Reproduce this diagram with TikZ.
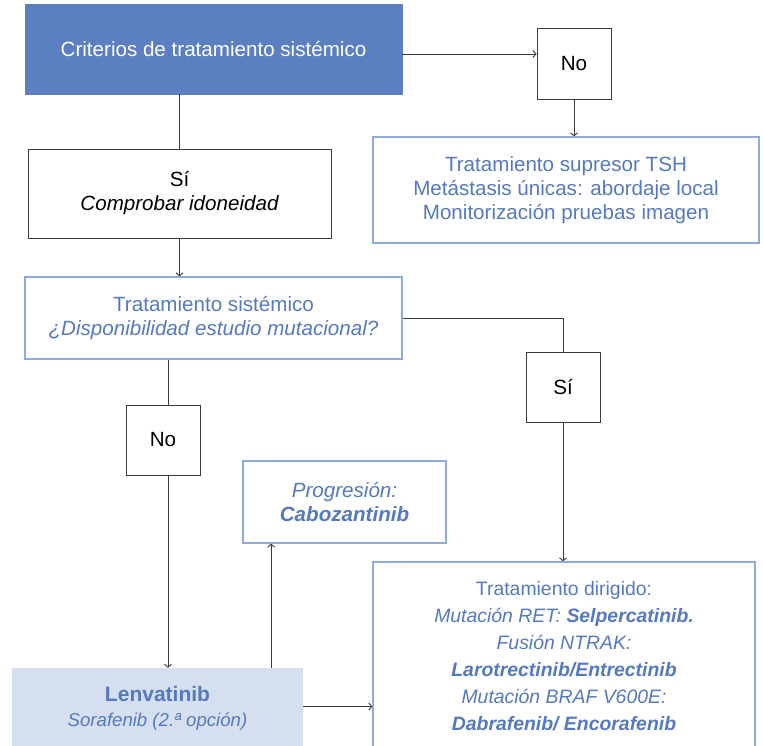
\documentclass[tikz,border=0pt]{standalone}
\usepackage{fontspec}
\setmainfont{Liberation Sans}
\usetikzlibrary{arrows.meta,calc}
\definecolor{topblue}{HTML}{5B7FC1}
\definecolor{txtblue}{HTML}{5479BE}
\definecolor{edgeblue}{HTML}{8FAADC}
\definecolor{lightfill}{HTML}{D6DFF0}
\definecolor{linegray}{HTML}{3A3A3A}
\tikzset{
  box/.style={rectangle, inner sep=0pt, align=center, anchor=center},
  blackbox/.style={box, draw=linegray, line width=1pt, text=black},
  bluebox/.style={box, draw=edgeblue, line width=1.3pt, text=txtblue},
  conn/.style={draw=linegray, line width=0.9pt},
  arr/.style={conn, -{Straight Barb[length=3bp,width=7bp]}},
  fs/.style={font=\fontsize{20.6bp}{24bp}\selectfont}
}
\begin{document}
\begin{tikzpicture}[x=1bp,y=-1bp]
\useasboundingbox (0,0) rectangle (763,746);
\begin{scope}
\clip (0,0) rectangle (763,746);
% nodes
\node[box, fill=topblue, draw=topblue, text=white, minimum width=377bp, minimum height=90bp, fs] (top) at (213.5,49) {Criterios de tratamiento sistémico};
\node[blackbox, minimum width=74bp, minimum height=71bp, fs] (no1) at (574,63.5) {No};
\node[bluebox, minimum width=386bp, minimum height=106bp, fs] (tsh) at (566,190) {Tratamiento supresor TSH\\Metástasis únicas: abordaje local\\Monitorización pruebas imagen};
\node[blackbox, minimum width=303bp, minimum height=89bp, fs] (si1) at (179.5,193.5) {Sí\\\itshape Comprobar idoneidad};
\node[bluebox, minimum width=377bp, minimum height=82bp, fs] (ts) at (213.5,318) {Tratamiento sistémico\\\itshape ¿Disponibilidad estudio mutacional?};
\node[blackbox, minimum width=74bp, minimum height=70bp, fs] (si2) at (563,387) {Sí};
\node[blackbox, minimum width=74bp, minimum height=70bp, fs] (no2) at (163,440) {No};
\node[bluebox, minimum width=203bp, minimum height=82bp, fs] (prog) at (344.5,502) {\itshape Progresión:\\\bfseries\itshape Cabozantinib};
\node[box, fill=lightfill, text=txtblue, minimum width=291bp, minimum height=81bp, font=\fontsize{21bp}{25bp}\selectfont] (lenv) at (157.5,708.5) {\textbf{Lenvatinib}\\{\fontsize{18.6bp}{25bp}\selectfont\itshape Sorafenib (2.ª opción)}};
\node[bluebox, minimum width=382bp, minimum height=189bp, font=\fontsize{19.4bp}{27bp}\selectfont] (td) at (564,656.5) {Tratamiento dirigido:\\\itshape Mutación RET: \bfseries Selpercatinib.\\\itshape Fusión NTRAK:\\\bfseries\itshape Larotrectinib/Entrectinib\\\itshape Mutación BRAF V600E:\\\bfseries\itshape Dabrafenib/ Encorafenib};
% connectors
\draw[arr] ([yshift=-5bp]top.east) -- ([yshift=-5bp]top.east -| no1.west);
\draw[arr] (no1.south) -- (no1.south |- tsh.north);
\draw[conn] (si1.north |- top.south) -- (si1.north);
\draw[arr] (si1.south) -- (si1.south |- ts.north);
\draw[conn] (ts.east) -| (si2.north);
\draw[arr] (si2.south) -- (si2.south |- td.north);
\draw[conn] ([xshift=5bp]no2.north |- ts.south) -- ([xshift=5bp]no2.north);
\draw[arr] ([xshift=5bp]no2.south) -- ([xshift=5bp]no2.south |- lenv.north);
\draw[arr] ([xshift=-32bp]lenv.north east) -- ([xshift=-32bp]lenv.north east |- prog.south);
\draw[arr] ([yshift=2bp]lenv.east) -- ([yshift=2bp]lenv.east -| td.west);
\end{scope}
\end{tikzpicture}
\end{document}
